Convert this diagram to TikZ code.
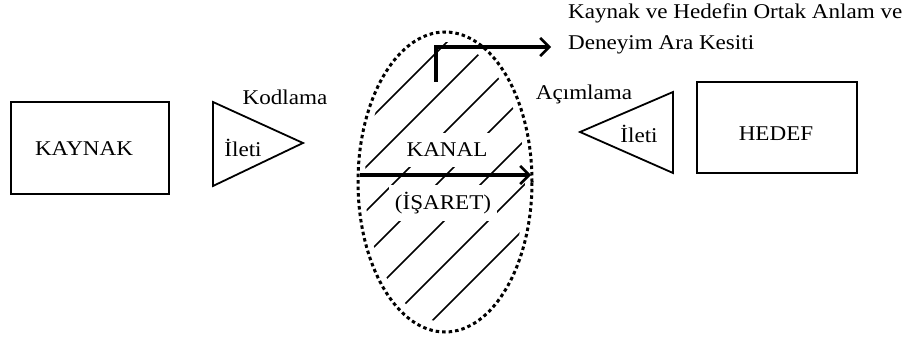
\documentclass[tikz,border=0pt]{standalone}
\usepackage{fontspec}
\setmainfont{Liberation Serif}[FakeStretch=1.1]
\usetikzlibrary{shapes.geometric,arrows.meta}
\begin{document}
\begin{tikzpicture}[x=1pt,y=-1pt,
  lbl/.style={font=\fontsize{21}{24}\selectfont, inner sep=0pt},
  box/.style={draw, line width=1.8pt, inner sep=0pt},
  tri/.style={draw, line width=1.8pt, line join=miter},
  hatch/.style={line width=1.5pt},
  barb/.style={-{Straight Barb[length=9pt,width=18pt,line width=2.6pt]}},
  chan/.style={ellipse, draw, dash pattern=on 3.5pt off 3pt, line width=3pt, inner sep=0pt},
  gap/.style={fill=white, inner xsep=6pt, inner ysep=10pt}]
\useasboundingbox (0,0) rectangle (910,344);
% source
\node[box, minimum width=158pt, minimum height=92pt] (src) at (90,148) {};
\node[lbl] (srcl) at (84,149) {KAYNAK};
% left message triangle
\coordinate (lt1) at (213,102);
\coordinate (lt2) at (213,186);
\coordinate (lt3) at (303,143);
\draw[tri] (lt1) -- (lt2) -- (lt3) -- cycle;
\node[lbl] (lmsg) at (243,148) {İleti};
\node[lbl] (enc) at (285,97) {Kodlama};
% channel
\node[chan, minimum width=174pt, minimum height=300pt] (chan) at (445,182) {};
\begin{scope}
  \clip (445,182) ellipse [x radius=80, y radius=140];
  \foreach \c in {489,533,577,621,665,709,753}
    \draw[hatch] (\c-400,400) -- (\c,0);
\end{scope}
\node[lbl, gap] (kanal) at (447,150) {KANAL};
\node[lbl, gap, inner ysep=7pt] (isaret) at (443,203) {(İŞARET)};
\coordinate (ml) at (360,175);
\coordinate (mr) at (531,175);
\draw[line width=3.4pt, barb] (ml) -- (mr);
% intersection arrow
\coordinate (vt) at (436,82);
\coordinate (corner) at (436,47);
\coordinate (tip) at (551,47);
\draw[line width=3.4pt, barb] (vt) -- (corner) -- (tip);
\node[lbl, anchor=west] (note1) at (568,13) {Kaynak ve Hedefin Ortak Anlam ve};
\node[lbl, anchor=west] (note2) at (568,45) {Deneyim Ara Kesiti};
% right message triangle
\coordinate (rt1) at (673,92);
\coordinate (rt2) at (673,173);
\coordinate (rt3) at (580,132);
\draw[tri] (rt1) -- (rt2) -- (rt3) -- cycle;
\node[lbl] (rmsg) at (639,134) {İleti};
\node[lbl] (dec) at (584,94) {Açımlama};
% target
\node[box, minimum width=160pt, minimum height=91pt] (dst) at (777,127.5) {};
\node[lbl] (dstl) at (776,134) {HEDEF};
\end{tikzpicture}
\end{document}
